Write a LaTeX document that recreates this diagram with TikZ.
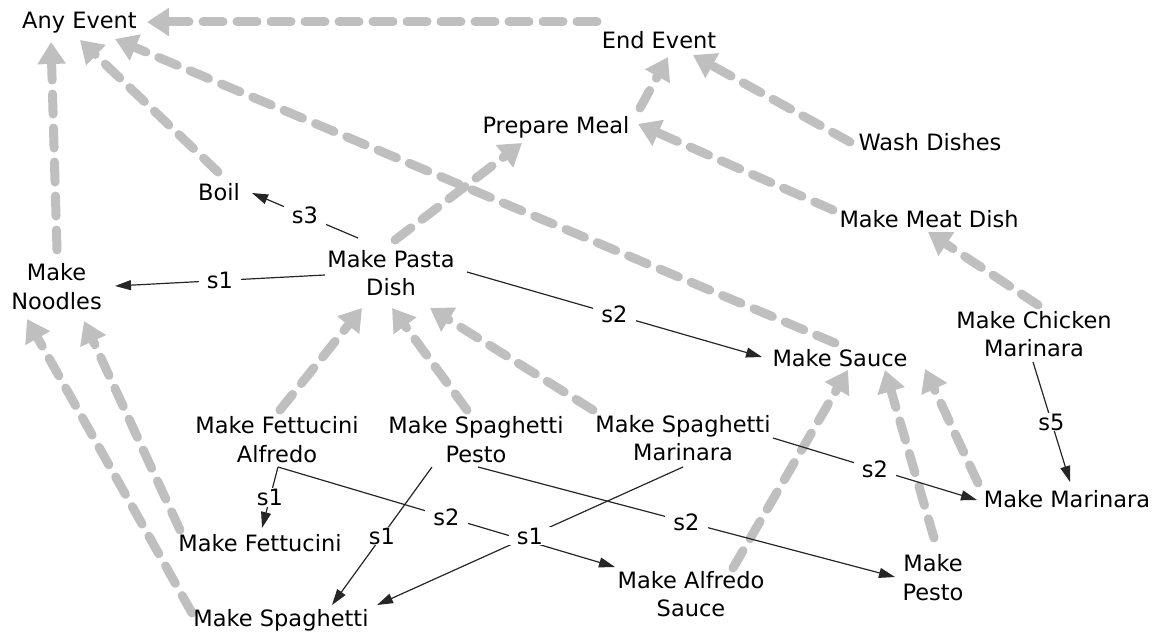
\documentclass[tikz,border=0pt]{standalone}
\usepackage{fontspec}
\setmainfont{DejaVu Sans}
\usetikzlibrary{arrows.meta,calc,backgrounds}
\newcommand{\nf}{\fontsize{22.5}{28.5}\selectfont}
\begin{document}
\begin{tikzpicture}[x=1pt,y=-1pt,
  ev/.style={font=\nf, align=center, inner sep=0pt},
  lab/.style={font=\nf, fill=white, inner xsep=8pt, inner ysep=1pt},
  isa/.style={draw=gray!50, line width=9pt, dash pattern=on 20pt off 14pt, line cap=round, -{Triangle[width=27pt,length=22pt]}},
  dec/.style={draw=black!85, line width=1.2pt, -{Triangle[width=10pt,length=16pt]}},
]
\useasboundingbox (0,0) rectangle (1166,634);

\node[ev] (any) at (79.5,22.6) {\strut Any Event};
\node[ev] (endev) at (659,42.6) {\strut End Event};
\node[ev] (prep) at (556,127.6) {\strut Prepare Meal};
\node[ev] (wash) at (930,145) {\strut Wash Dishes};
\node[ev] (meat) at (929,222) {\strut Make Meat Dish};
\node[ev] (boil) at (219,195) {\strut Boil};
\node[ev] (pasta) at (391,275.8) {\strut Make Pasta\\\strut Dish};
\node[ev] (noodles) at (56.5,289.3) {\strut Make\\\strut Noodles};
\node[ev] (sauce) at (840,360.3) {\strut Make Sauce};
\node[ev] (chick) at (1034,336.8) {\strut Make Chicken\\\strut Marinara};
\node[ev] (fa) at (277,442.3) {\strut Make Fettucini\\\strut Alfredo};
\node[ev] (sp) at (476,442.3) {\strut Make Spaghetti\\\strut Pesto};
\node[ev] (sm) at (683,441) {\strut Make Spaghetti\\\strut Marinara};
\node[ev] (fett) at (260,546) {\strut Make Fettucini};
\node[ev] (spag) at (281,620.3) {\strut Make Spaghetti};
\node[ev] (alf) at (691,596.8) {\strut Make Alfredo\\\strut Sauce};
\node[ev] (pesto) at (933,580.1) {\strut Make\\\strut Pesto};
\node[ev] (mar) at (1067,502) {\strut Make Marinara};

\begin{scope}[on background layer]
\draw[isa] ($(endev)+(-62,-20.6)$) -- ($(any)+(67.5,-0.6)$);
\draw[isa] ($(noodles)+(0.5,-39.3)$) -- ($(any)+(-28.5,19.4)$);
\draw[isa] ($(boil)+(-1,-23)$) -- ($(any)+(0.5,17.4)$);
\draw[isa] ($(sauce)+(-5,-17.3)$) -- ($(any)+(35.5,16.4)$);
\draw[isa] ($(prep)+(84,-19.6)$) -- ($(endev)+(9,14.4)$);
\draw[isa] ($(wash)+(-80,-3)$) -- ($(endev)+(34,12.4)$);
\draw[isa] ($(meat)+(-96,-12)$) -- ($(prep)+(82,-3.6)$);
\draw[isa] ($(pasta)+(4,-35.8)$) -- ($(prep)+(-34,15.4)$);
\draw[isa] ($(chick)+(4,-31.8)$) -- ($(meat)+(-1,10)$);
\draw[isa] ($(fa)+(3,-32.3)$) -- ($(pasta)+(-29,32.2)$);
\draw[isa] ($(sp)+(-9,-32.3)$) -- ($(pasta)+(1,32.2)$);
\draw[isa] ($(sm)+(-90,-31)$) -- ($(pasta)+(39,32.2)$);
\draw[isa] ($(fett)+(-80,-16)$) -- ($(noodles)+(27.5,31.7)$);
\draw[isa] ($(spag)+(-89,-7.3)$) -- ($(noodles)+(-29.5,29.7)$);
\draw[isa] ($(alf)+(42,-28.8)$) -- ($(sauce)+(8,9.7)$);
\draw[isa] ($(pesto)+(1,-42.1)$) -- ($(sauce)+(45,9.7)$);
\draw[isa] ($(mar)+(-89,-19)$) -- ($(sauce)+(85,8.7)$);
\end{scope}

\draw[dec] ($(pasta)+(-33,-37.8)$) -- node[lab] (l1) {s3} ($(boil)+(33,-2)$);
\draw[dec] ($(pasta)+(-66,-0.8)$) -- node[lab] (l2) {s1} ($(noodles)+(58.5,-3.3)$);
\draw[dec] ($(pasta)+(76,-3.8)$) -- node[lab] (l3) {s2} ($(sauce)+(-78,-3.3)$);
\draw[dec] ($(fa)+(1,24.7)$) -- node[lab] (l4) {s1} ($(fett)+(2,-18)$);
\draw[dec] ($(fa)+(1,24.7)$) -- node[lab] (l5) {s2} ($(alf)+(-76,-29.8)$);
\draw[dec] ($(sp)+(-44,24.7)$) -- node[lab] (l6) {s1} ($(spag)+(51,-15.3)$);
\draw[dec] ($(sp)+(2,24.7)$) -- node[lab] (l7) {s2} ($(pesto)+(-38,-3.1)$);
\draw[dec] ($(sm)+(0,26)$) -- node[lab] (l8) {s1} ($(spag)+(96,-15.3)$);
\draw[dec] ($(sm)+(90,-3)$) -- node[lab] (l9) {s2} ($(mar)+(-90,-2)$);
\draw[dec] ($(chick)+(-1,25.2)$) -- node[lab] (l10) {s5} ($(mar)+(3,-20)$);
\end{tikzpicture}
\end{document}
